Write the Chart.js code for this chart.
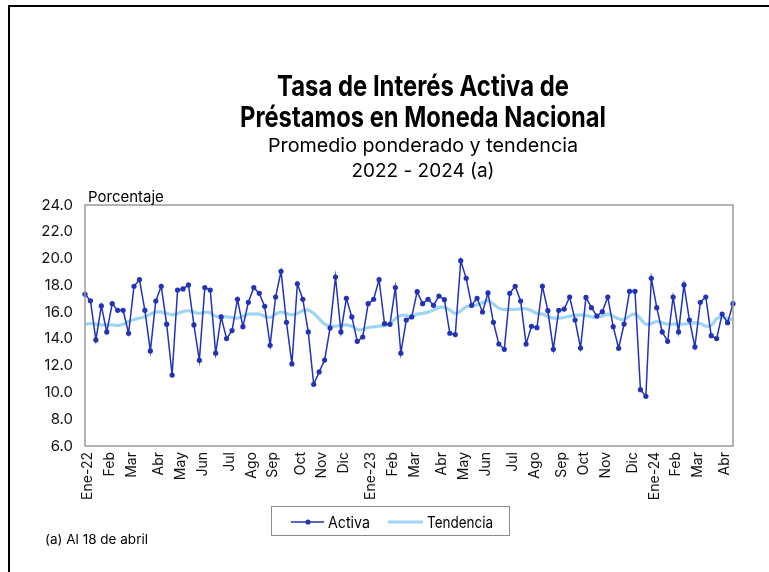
<!DOCTYPE html>
<html>
<head>
<meta charset="utf-8">
<script src="https://cdn.jsdelivr.net/npm/chart.js@4.4.1/dist/chart.umd.min.js"></script>
<style>
  html, body { margin: 0; padding: 0; background: #fff; }
  canvas { display: block; }
</style>
</head>
<body>
<canvas id="chart" width="769" height="572"></canvas>
<script>
// month tick labels and the week index where each month starts
const monthTicks = ['Ene-22','Feb','Mar','Abr','May','Jun','Jul','Ago','Sep','Oct','Nov','Dic',
                    'Ene-23','Feb','Mar','Abr','May','Jun','Jul','Ago','Sep','Oct','Nov','Dic',
                    'Ene-24','Feb','Mar','Abr'];
const monthStart = [0,4,8,13,17,21,26,30,34,39,43,47,52,56,60,65,69,73,78,82,87,91,95,100,104,108,112,117];

// weekly rate (Activa), Jan 2022 - Apr 18 2024
const activa = [
  17.33,16.85,13.92,16.46,14.52,16.63,16.13,16.13,14.42,17.93,
  18.42,16.13,13.10,16.83,17.93,15.10,11.30,17.65,17.73,18.03,
  15.04,12.40,17.83,17.65,12.93,15.64,14.02,14.62,16.96,14.91,
  16.73,17.83,17.40,16.43,13.52,17.13,19.05,15.24,12.13,18.12,
  16.96,14.52,10.61,11.53,12.42,14.81,18.62,14.52,17.03,15.64,
  13.82,14.14,16.63,16.96,18.42,15.14,15.09,17.83,12.93,15.41,
  15.64,17.53,16.63,16.96,16.51,17.20,16.93,14.42,14.32,19.84,
  18.52,16.51,17.03,16.01,17.43,15.24,13.62,13.22,17.40,17.93,
  16.83,13.62,14.94,14.84,17.93,16.11,13.22,16.13,16.23,17.13,
  15.41,13.32,17.10,16.33,15.71,16.03,17.13,14.91,13.30,15.11,
  17.55,17.55,10.21,9.71,18.52,16.33,14.52,13.82,17.13,14.52,
  18.03,15.41,13.40,16.73,17.13,14.24,14.02,15.86,15.21,16.63
];

// trend (Tendencia)
const tendencia = [
  15.10,15.15,15.10,15.05,15.05,15.05,15.00,15.10,15.30,15.45,
  15.55,15.65,15.85,16.00,16.00,15.90,15.80,15.90,16.05,16.10,
  16.00,15.90,16.00,15.95,15.70,15.65,15.65,15.60,15.55,15.70,
  15.85,15.85,15.85,15.70,15.60,15.85,16.00,15.90,15.80,15.90,
  16.10,16.15,15.90,15.50,15.10,14.95,14.95,15.00,15.05,14.95,
  14.70,14.70,14.85,14.90,14.95,15.00,15.10,15.50,15.75,15.75,
  15.65,15.85,15.90,16.00,16.15,16.35,16.35,16.15,15.90,16.10,
  16.40,16.45,16.55,16.70,16.85,16.60,16.30,16.20,16.20,16.20,
  16.25,16.25,16.10,15.90,15.85,15.65,15.55,15.55,15.60,15.70,
  15.75,15.80,15.75,15.65,15.60,15.70,15.85,15.70,15.50,15.45,
  15.70,15.85,15.50,15.10,15.15,15.30,15.20,15.10,15.10,15.10,
  15.10,15.15,15.20,15.15,14.95,15.00,15.50,15.65,15.50,15.45
];

const yTicks = { min: 6, max: 24, step: 2 };

const labels = activa.map(() => '');
monthStart.forEach((i, k) => { labels[i] = monthTicks[k]; });

const activaColor = '#2233b8';
const trendColor = '#9fd4f3';

// text helper: optionally squeeze to a target width
function txt(ctx, s, x, y, font, align, w) {
  ctx.save();
  ctx.font = font;
  ctx.fillStyle = '#000';
  ctx.textBaseline = 'alphabetic';
  const m = ctx.measureText(s).width;
  const sx = w ? w / m : 1;
  ctx.translate(x, y);
  ctx.scale(sx, 1);
  ctx.textAlign = align;
  ctx.fillText(s, 0, 0);
  ctx.restore();
}

const decor = {
  id: 'decor',
  afterDraw(chart) {
    const ctx = chart.ctx;
    const a = chart.chartArea;
    ctx.save();
    // plot border
    ctx.strokeStyle = '#9a9a9a';
    ctx.lineWidth = 1.5;
    ctx.strokeRect(a.left, a.top, a.right - a.left, a.bottom - a.top);
    // outer frame (top and left only visible)
    ctx.strokeStyle = '#000';
    ctx.lineWidth = 2;
    ctx.beginPath();
    ctx.moveTo(9, 572); ctx.lineTo(9, 6); ctx.lineTo(769, 6);
    ctx.stroke();
    ctx.restore();

    // titles
    txt(ctx, 'Tasa de Interés Activa de', 423, 96, 'bold 29px Inter', 'center', 292);
    txt(ctx, 'Préstamos en Moneda Nacional', 423, 127, 'bold 29px Inter', 'center', 366);
    txt(ctx, 'Promedio ponderado y tendencia', 423, 152, '19px Inter', 'center', 310);
    txt(ctx, '2022 - 2024 (a)', 423, 177, '19px Inter', 'center', 143);
    txt(ctx, 'Porcentaje', 88, 202, '15px Inter', 'left');
    txt(ctx, '(a) Al 18 de abril', 45, 544, '13px Inter', 'left', 103);

    // legend
    ctx.save();
    ctx.strokeStyle = '#8a8a8a';
    ctx.lineWidth = 1;
    ctx.strokeRect(271.5, 506.5, 238, 29);
    ctx.strokeStyle = activaColor;
    ctx.lineWidth = 1.5;
    ctx.beginPath(); ctx.moveTo(291, 522); ctx.lineTo(324, 522); ctx.stroke();
    ctx.fillStyle = activaColor;
    ctx.beginPath(); ctx.arc(308, 522, 2.6, 0, Math.PI * 2); ctx.fill();
    ctx.strokeStyle = trendColor;
    ctx.lineWidth = 3;
    ctx.beginPath(); ctx.moveTo(388, 522); ctx.lineTo(423, 522); ctx.stroke();
    ctx.restore();
    txt(ctx, 'Activa', 328, 528, '16px Inter', 'left', 42);
    txt(ctx, 'Tendencia', 427, 528, '16px Inter', 'left', 66);
  }
};

new Chart(document.getElementById('chart'), {
  type: 'line',
  data: {
    labels: labels,
    datasets: [
      {
        label: 'Activa',
        data: activa,
        borderColor: activaColor,
        backgroundColor: activaColor,
        borderWidth: 1.5,
        pointRadius: 2.6,
        pointBorderWidth: 0,
        pointBackgroundColor: activaColor,
        tension: 0,
        order: 0
      },
      {
        label: 'Tendencia',
        data: tendencia,
        borderColor: trendColor,
        borderWidth: 3.2,
        pointRadius: 0,
        tension: 0.4,
        order: 1
      }
    ]
  },
  options: {
    responsive: false,
    animation: false,
    layout: { padding: { top: 205, right: 36, left: 0, bottom: 0 } },
    plugins: {
      legend: { display: false },
      title: { display: false },
      tooltip: { enabled: false }
    },
    scales: {
      x: {
        offset: false,
        grid: { display: false, drawTicks: false },
        border: { display: false },
        ticks: {
          autoSkip: false,
          minRotation: 90,
          maxRotation: 90,
          padding: 6,
          labelOffset: 3,
          color: '#111',
          font: { family: 'Inter', size: 14 }
        },
        afterFit(s) { s.height = 126; }
      },
      y: {
        min: yTicks.min,
        max: yTicks.max,
        grid: { display: false, drawTicks: false },
        border: { display: false },
        ticks: {
          stepSize: yTicks.step,
          padding: 12,
          color: '#111',
          font: { family: 'Inter', size: 15 },
          callback: v => v.toFixed(1)
        },
        afterFit(s) { s.width = 85; }
      }
    }
  },
  plugins: [decor]
});
</script>
</body>
</html>
